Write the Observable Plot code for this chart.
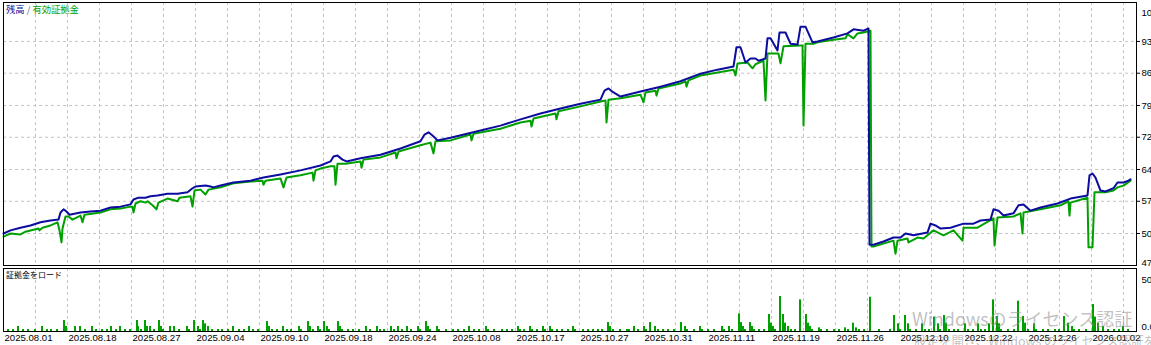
<!DOCTYPE html>
<html><head><meta charset="utf-8">
<script src="https://cdn.jsdelivr.net/npm/d3@7"></script>
<script src="https://cdn.jsdelivr.net/npm/@observablehq/plot@0.6"></script>
<style>
html,body{margin:0;padding:0;background:#fff;}
body{width:1151px;height:345px;position:relative;overflow:hidden;font-family:"Liberation Sans",Arial,sans-serif;}
#top,#bot{position:absolute;left:0;}
#top{top:0;}
#bot{top:266px;}
.ttl{position:absolute;font-family:"Noto Sans CJK JP",sans-serif;white-space:nowrap;line-height:1;}
.wm{position:absolute;font-family:"Noto Sans CJK JP","Liberation Sans",sans-serif;color:rgba(140,140,140,0.55);white-space:nowrap;line-height:1;}
</style></head>
<body>
<div id="top"></div>
<div id="bot"></div>
<div class="ttl" style="left:6px;top:5px;font-size:9.3px;"><span style="color:#0b0b9a">残高</span><span style="color:#6a5a9a"> / </span><span style="color:#00a000">有効証拠金</span></div>
<div class="ttl" style="left:6px;top:271px;font-size:8px;color:#000">証拠金をロード</div>
<div class="wm" style="left:912px;top:309px;font-size:18px;">Windowsのライセンス認証</div>
<div class="wm" style="left:914px;top:335px;font-size:12.5px;">設定を開き、Windows のライセンス認証を行ってください。</div>
<script>
// ---- data ----
const balanceDeal = [0,7,17,27,37,47,55,57,60,63,66,77,87,97,107,117,127,130,135,142,147,154,164,174,184,189,192,202,207,210,217,230,247,260,277,297,317,327,330,334,339,343,357,377,397,417,421,425,429,434,447,477,497,517,537,557,577,597,601,605,610,617,637,657,677,697,714,730,733,737,742,747,752,755,762,764,767,774,776,782,787,794,797,802,809,814,830,844,850,860,865,866,870,880,890,897,902,910,924,927,932,937,947,960,970,977,987,990,995,1000,1010,1015,1020,1027,1037,1054,1067,1084,1086,1089,1092,1097,1102,1110,1114,1120,1125,1127];
const balanceValue = [50.6,51.3,51.9,52.4,53.1,53.5,53.7,55.3,56.0,55.5,54.8,55.3,55.5,55.7,56.4,56.6,57.1,58.2,58.6,58.6,58.9,59.1,59.5,59.5,59.8,60.7,61.1,61.3,61.1,60.9,61.3,62.0,62.4,63.1,63.8,64.7,65.8,66.7,67.8,68.0,67.1,66.7,67.4,68.2,69.6,71.2,72.7,73.2,72.5,71.4,72.0,73.6,74.7,76.1,77.4,78.5,79.6,80.5,82.5,83.0,82.1,81.2,82.3,83.4,84.6,86.3,87.2,87.9,92.2,92.2,88.8,89.7,89.7,89.2,89.7,94.2,94.2,91.5,95.5,95.5,93.0,92.8,96.8,96.8,93.3,93.5,94.4,95.3,96.2,95.9,96.4,48.1,48.1,48.8,49.7,49.7,50.6,50.2,50.8,52.8,52.4,51.7,51.9,52.8,52.8,53.5,53.7,56.0,55.7,54.6,55.1,56.9,57.1,55.7,56.4,57.3,58.4,59.1,63.6,64.0,63.1,60.2,60.0,60.7,62.0,62.0,62.4,62.7];
const equityDeal = [0,7,17,22,35,36,39,47,54,56,58,59,62,65,69,77,79,81,97,107,117,127,129,130,132,137,142,144,149,153,155,164,174,176,187,189,191,197,202,205,217,230,247,259,260,262,277,280,283,297,309,310,312,317,327,331,332,334,342,357,358,360,377,392,393,395,417,427,430,432,447,467,468,470,497,517,527,528,530,552,553,555,577,597,602,603,605,617,637,640,642,652,653,655,677,682,683,685,697,730,732,734,744,749,752,760,762,764,775,777,780,797,799,800,802,810,814,830,842,844,850,854,860,867,868,870,890,892,894,904,905,914,920,930,940,950,959,960,974,990,991,994,1010,1017,1019,1020,1037,1057,1065,1066,1067,1084,1085,1089,1091,1102,1110,1114,1120,1127];
const equityValue = [49.9,50.6,50.4,51.0,51.7,51.3,51.9,52.4,53.1,51.3,48.6,51.7,54.4,54.4,53.7,54.6,53.1,54.8,55.3,56.0,56.2,56.6,56.6,55.3,57.3,57.8,57.5,57.8,56.9,56.0,57.5,58.4,57.8,58.6,58.9,56.6,60.2,60.4,59.3,60.4,60.9,61.8,62.2,62.4,61.5,62.4,62.9,60.9,63.1,63.6,64.2,62.4,64.7,65.1,65.6,65.6,61.5,66.2,66.2,66.7,65.3,67.1,67.6,68.7,67.4,68.9,70.3,70.9,68.5,71.2,71.4,72.7,71.4,72.9,74.0,75.4,75.8,74.5,76.3,77.4,76.1,77.9,79.0,80.1,80.3,75.4,80.5,80.8,81.6,79.9,82.1,82.5,81.4,83.0,84.1,84.6,83.4,84.8,85.9,87.2,85.9,88.6,88.8,87.5,88.4,89.2,80.3,90.8,90.8,88.6,92.4,92.6,92.6,74.7,93.0,93.0,93.3,93.9,94.2,95.1,94.2,95.3,95.5,95.9,47.7,47.7,49.0,46.1,49.0,49.5,48.6,49.7,49.5,51.3,50.2,51.3,49.0,51.9,51.9,54.0,47.9,54.2,54.4,55.1,50.6,55.3,56.0,56.9,57.8,54.6,57.5,58.6,47.5,47.5,59.8,59.8,60.2,60.9,61.3,62.4];
const marginDeal = [4,9,14,19,24,31,38,43,47,53,60,62,71,76,81,88,92,98,103,107,112,116,121,126,133,134,137,141,143,146,150,155,157,159,166,170,175,183,185,190,194,196,199,201,204,208,214,218,224,229,235,240,245,249,254,263,265,268,273,279,283,287,295,297,304,306,309,314,316,320,323,325,334,336,338,344,349,355,362,366,373,376,380,387,390,394,398,403,407,414,416,422,424,426,433,435,442,449,454,460,465,470,475,482,484,490,498,503,508,514,516,520,526,528,533,539,541,546,548,553,558,564,569,571,579,584,589,594,598,604,606,609,616,623,625,630,634,640,642,646,651,654,659,664,670,677,681,683,690,696,698,704,710,718,720,725,728,735,737,739,741,746,748,750,755,760,765,767,769,771,776,779,781,784,787,791,796,802,804,806,808,815,817,823,830,835,841,844,849,852,855,860,866,875,886,890,894,896,901,904,906,912,918,921,925,930,934,936,940,942,945,950,954,961,964,969,974,977,981,985,989,993,995,997,1004,1010,1014,1019,1021,1024,1030,1032,1039,1044,1051,1055,1060,1064,1068,1070,1075,1082,1089,1091,1094,1099,1104,1110,1115,1119,1124];
const marginLoad = [1.6,1.6,4.0,1.6,1.6,1.6,4.0,1.6,1.6,1.6,8.7,4.0,4.0,4.0,1.6,4.0,1.6,1.6,1.6,4.0,1.6,4.0,1.6,1.6,8.7,4.0,1.6,8.7,4.0,4.0,1.6,8.7,4.0,1.6,4.0,4.0,1.6,4.0,1.6,8.7,4.0,1.6,8.7,6.1,4.0,1.6,1.6,1.6,1.6,4.0,1.6,1.6,4.0,1.6,1.6,7.9,4.0,1.6,1.6,4.0,1.6,1.6,4.0,1.6,7.9,4.0,1.6,4.0,1.6,7.9,4.0,1.6,7.9,4.0,1.6,1.6,1.6,1.6,4.0,1.6,4.0,1.6,1.6,4.0,1.6,4.0,1.6,4.0,1.6,4.0,1.6,7.9,4.0,1.6,4.0,1.6,1.6,1.6,1.6,1.6,4.0,1.6,1.6,4.0,1.6,1.6,1.6,1.6,1.6,4.0,1.6,1.6,4.0,1.6,1.6,4.0,1.6,4.0,1.6,1.6,1.6,1.6,4.0,1.6,1.6,1.6,1.6,1.6,1.6,7.1,4.0,1.6,1.6,1.6,1.6,4.0,1.6,4.0,1.6,7.1,4.0,1.6,1.6,1.6,1.6,7.1,4.0,1.6,1.6,4.0,1.6,1.6,1.6,4.0,1.6,4.0,1.6,14.0,7.1,4.0,1.6,7.1,4.0,1.6,1.6,1.6,13.5,6.6,4.0,1.6,27.8,13.5,6.6,4.0,1.6,1.6,25.1,13.5,6.6,4.0,1.6,2.9,1.6,1.6,1.6,1.6,2.9,1.6,6.6,2.9,1.6,1.6,27.2,1.6,1.6,12.7,6.1,1.6,12.7,6.1,1.6,1.6,6.1,1.6,1.6,11.4,6.1,1.6,12.7,6.6,1.6,1.6,1.6,6.1,1.6,1.6,6.1,1.6,1.6,6.1,25.1,11.9,6.1,1.6,1.6,1.6,24.1,11.9,6.6,1.6,6.1,1.6,1.6,1.6,1.6,1.6,11.9,6.6,4.0,1.6,1.6,1.6,21.4,11.4,6.6,4.0,1.6,1.6,1.6,4.0,1.6];
const gridDeal = d3.range(32, 1121, 32);
const dateDeal = [0,64,128,192,256,320,384,448,512,576,640,704,768,832,896,960,1024,1088];
const dateLabels = ["2025.08.01","2025.08.18","2025.08.27","2025.09.04","2025.09.10","2025.09.18","2025.09.24","2025.10.08","2025.10.17","2025.10.27","2025.10.31","2025.11.11","2025.11.19","2025.11.26","2025.12.10","2025.12.22","2025.12.26","2026.01.02"];
const yTicks = [93.5,86.4,79.2,72.1,64.9,57.8,50.6];
const yTickLabels = ["93540","86390","79240","72090","64940","57790","50640"];
const yTopLabel = "10 220";
const yBottomLabel = "47420";
const loadTopLabel = "50.00";
const loadBottomLabel = "0.00";

const balance = balanceDeal.map((x, i) => ({x, y: balanceValue[i]}));
const equity = equityDeal.map((x, i) => ({x, y: equityValue[i]}));
const margin = marginDeal.map((x, i) => ({x, y: marginLoad[i]}));

const BLUE = "#0c0c9e", GREEN = "#00a000", GRID = "#c4c4c4";
const font = {background: "transparent", overflow: "visible", fontFamily: "'Liberation Sans', Arial, sans-serif", fontSize: "9.6px", color: "#000"};
const xDomain = [0, 1133];

const topPlot = Plot.plot({
  width: 1151, height: 267,
  marginLeft: 3, marginRight: 15, marginTop: 2, marginBottom: 2,
  x: {domain: xDomain, axis: null},
  y: {domain: [43.45, 102.2], axis: null},
  style: font,
  marks: [
    Plot.ruleY(yTicks, {stroke: GRID, strokeDasharray: "3,3"}),
    Plot.ruleX(gridDeal, {stroke: GRID, strokeDasharray: "3,3"}),
    Plot.line(equity, {x: "x", y: "y", stroke: GREEN, strokeWidth: 2}),
    Plot.line(balance, {x: "x", y: "y", stroke: BLUE, strokeWidth: 2}),
    Plot.frame({stroke: "#000"}),
    Plot.axisY(yTicks, {anchor: "right", label: null, tickSize: 3, tickPadding: 2, stroke: "#000", fill: "#000",
      tickFormat: d => yTickLabels[yTicks.indexOf(d)]}),
    Plot.text([yTopLabel], {frameAnchor: "top-right", textAnchor: "start", dx: 5, dy: 7, fill: "#000"}),
    Plot.text([yBottomLabel], {frameAnchor: "bottom-right", textAnchor: "start", dx: 5, dy: 0, fill: "#000"})
  ]
});
document.getElementById("top").appendChild(topPlot);

const botPlot = Plot.plot({
  width: 1151, height: 79,
  marginLeft: 3, marginRight: 15, marginTop: 2, marginBottom: 14,
  x: {domain: xDomain, axis: null},
  y: {domain: [0, 50], axis: null},
  style: font,
  marks: [
    Plot.ruleX(gridDeal, {stroke: GRID, strokeDasharray: "3,3"}),
    Plot.rectY(margin, {x1: "x", x2: d => d.x + 2, y: "y", fill: GREEN}),
    Plot.frame({stroke: "#000"}),
    Plot.axisX(dateDeal, {anchor: "bottom", label: null, tickSize: 0, tickPadding: 3, textAnchor: "start", dx: 1, fill: "#000",
      tickFormat: d => dateLabels[dateDeal.indexOf(d)]}),
    Plot.text([loadTopLabel], {frameAnchor: "top-right", textAnchor: "start", dx: 5, dy: 8, fill: "#000"}),
    Plot.text([loadBottomLabel], {frameAnchor: "bottom-right", textAnchor: "start", dx: 5, dy: -2, fill: "#000"})
  ]
});
document.getElementById("bot").appendChild(botPlot);
</script>
</body></html>
